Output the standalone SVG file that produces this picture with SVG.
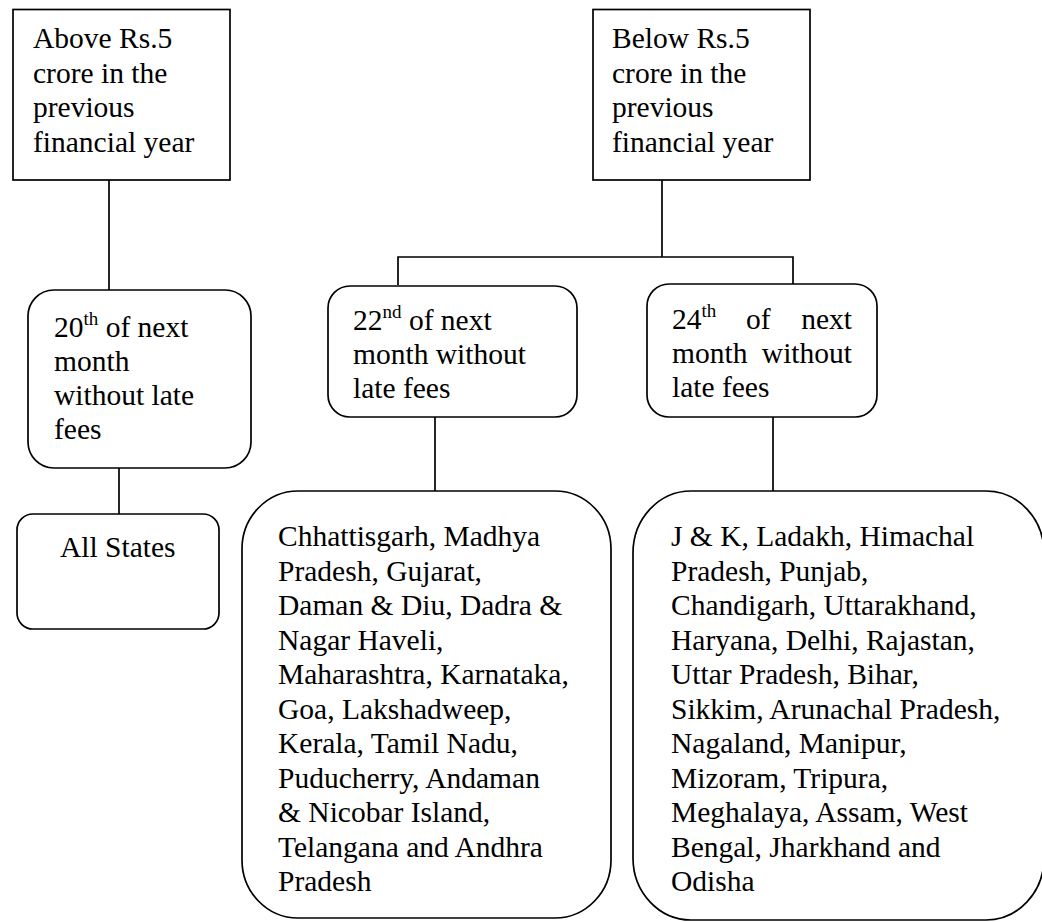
<svg xmlns="http://www.w3.org/2000/svg" width="1042" height="922" viewBox="0 0 1042 922">
  <style>
    .box { fill: #ffffff; stroke: #000000; stroke-width: 1.7; }
    .link { fill: none; stroke: #000000; stroke-width: 1.7; }
    .t { font-family: 'Liberation Serif', 'Tinos', 'DejaVu Serif', serif; font-size: 29.5px; fill: #000000; }
    .sup { font-size: 19px; }
  </style>
  <rect width="1042" height="922" fill="#ffffff"/>

  <!-- connectors -->
  <g id="connectors">
    <line class="link" x1="109" y1="180" x2="109" y2="290"/>
    <line class="link" x1="119" y1="468" x2="119" y2="514"/>
    <polyline class="link" points="662,180 662,257"/>
    <polyline class="link" points="398,285 398,257 793,257 793,284"/>
    <line class="link" x1="435" y1="417" x2="435" y2="491"/>
    <line class="link" x1="773" y1="417" x2="773" y2="491"/>
  </g>

  <g class="t" font-family="Liberation Serif, DejaVu Serif, serif">
  <!-- turnover above Rs.5 crore -->
  <g id="above">
    <rect class="box" x="13" y="9.5" width="217" height="170.5"/>
    <text x="33" y="48">Above Rs.5</text>
    <text x="33" y="82.5">crore in the</text>
    <text x="33" y="117">previous</text>
    <text x="33" y="151.5">financial year</text>
  </g>

  <!-- turnover below Rs.5 crore -->
  <g id="below">
    <rect class="box" x="593" y="9.5" width="217" height="170.5"/>
    <text x="612" y="48">Below Rs.5</text>
    <text x="612" y="82.5">crore in the</text>
    <text x="612" y="117">previous</text>
    <text x="612" y="151.5">financial year</text>
  </g>

  <!-- due date: 20th -->
  <g id="due20">
    <rect class="box" x="28" y="290" width="223" height="178" rx="26" ry="26"/>
    <text x="54" y="337">20<tspan class="sup" dy="-12">th</tspan><tspan dy="12"> of next</tspan></text>
    <text x="54" y="371">month</text>
    <text x="54" y="405">without late</text>
    <text x="54" y="439">fees</text>
  </g>

  <!-- due date: 22nd -->
  <g id="due22">
    <rect class="box" x="328" y="286" width="249" height="131" rx="22" ry="22"/>
    <text x="353" y="330">22<tspan class="sup" dy="-12">nd</tspan><tspan dy="12"> of next</tspan></text>
    <text x="353" y="364">month without</text>
    <text x="353" y="398">late fees</text>
  </g>

  <!-- due date: 24th -->
  <g id="due24">
    <rect class="box" x="647" y="284" width="230" height="133" rx="22" ry="22"/>
    <text x="672" y="329">24<tspan class="sup" dy="-12">th</tspan></text>
    <text x="746" y="329">of</text>
    <text x="852" y="329" text-anchor="end">next</text>
    <text x="672" y="363">month</text>
    <text x="852" y="363" text-anchor="end">without</text>
    <text x="672" y="397">late fees</text>
  </g>

  <!-- states for 20th -->
  <g id="all-states">
    <rect class="box" x="17" y="514" width="202" height="115" rx="16" ry="16"/>
    <text x="60" y="557">All States</text>
  </g>

  <!-- states for 22nd -->
  <g id="states22">
    <rect class="box" x="242" y="491" width="369" height="427" rx="56" ry="58"/>
    <text x="278" y="546">Chhattisgarh, Madhya</text>
    <text x="278" y="580.5">Pradesh, Gujarat,</text>
    <text x="278" y="615">Daman &amp; Diu, Dadra &amp;</text>
    <text x="278" y="649.5">Nagar Haveli,</text>
    <text x="278" y="684">Maharashtra, Karnataka,</text>
    <text x="278" y="718.5">Goa, Lakshadweep,</text>
    <text x="278" y="753">Kerala, Tamil Nadu,</text>
    <text x="278" y="787.5">Puducherry, Andaman</text>
    <text x="278" y="822">&amp; Nicobar Island,</text>
    <text x="278" y="856.5">Telangana and Andhra</text>
    <text x="278" y="891">Pradesh</text>
  </g>

  <!-- states for 24th -->
  <g id="states24">
    <rect class="box" x="633" y="491" width="411" height="429" rx="58" ry="62"/>
    <text x="671" y="546">J &amp; K, Ladakh, Himachal</text>
    <text x="671" y="580.5">Pradesh, Punjab,</text>
    <text x="671" y="615">Chandigarh, Uttarakhand,</text>
    <text x="671" y="649.5">Haryana, Delhi, Rajastan,</text>
    <text x="671" y="684">Uttar Pradesh, Bihar,</text>
    <text x="671" y="718.5">Sikkim, Arunachal Pradesh,</text>
    <text x="671" y="753">Nagaland, Manipur,</text>
    <text x="671" y="787.5">Mizoram, Tripura,</text>
    <text x="671" y="822">Meghalaya, Assam, West</text>
    <text x="671" y="856.5">Bengal, Jharkhand and</text>
    <text x="671" y="891">Odisha</text>
  </g>
  </g>
</svg>
